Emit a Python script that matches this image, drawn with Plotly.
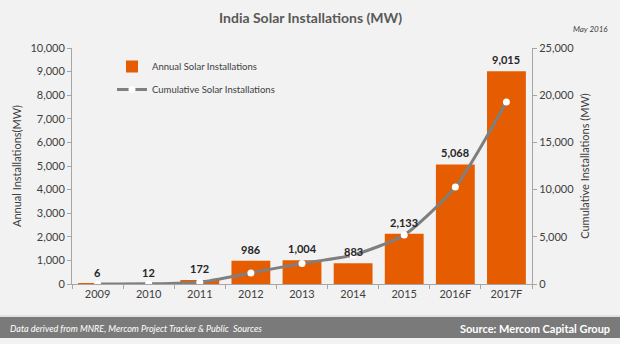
import plotly.graph_objects as go

years = ["2009", "2010", "2011", "2012", "2013", "2014", "2015", "2016F", "2017F"]
annual = [6, 12, 172, 986, 1004, 883, 2133, 5068, 9015]
cumulative = [6, 18, 190, 1176, 2180, 3063, 5196, 10264, 19279]
annual_labels = ["6", "12", "172", "986", "1,004", "883", "2,133", "5,068", "9,015"]

BAR = "#E65C00"
LINE = "#7F7F7F"
TXT = "#404040"
FONT = "Lato"

fig = go.Figure()
fig.add_trace(go.Bar(
    x=years, y=annual, name="Annual Solar Installations",
    marker=dict(color=BAR, line=dict(width=0)), yaxis="y", legendgroup="a",
))
fig.add_trace(go.Scatter(
    x=years, y=cumulative, name="Cumulative Solar Installations",
    mode="lines+markers", yaxis="y2", legendgroup="b",
    line=dict(color=LINE, width=3, shape="spline", smoothing=0.6),
    marker=dict(color="white", size=7, line=dict(width=0)),
))

annotations = []
for i, (v, t) in enumerate(zip(annual, annual_labels)):
    annotations.append(dict(x=i, y=v, xref="x", yref="y", text="<b>%s</b>" % t,
                            showarrow=False, yanchor="bottom", yshift=3,
                            font=dict(size=11, color="#262626", family=FONT)))

W, H = 460, 236
L, T = 72, 48
def px(x):
    return (x - L) / W
def py(y):
    return (T + H - y) / H

annotations += [
    dict(x=px(310), y=py(18), xref="paper", yref="paper",
         text="<b>India Solar Installations (MW)</b>", showarrow=False,
         font=dict(size=14, color="#595959", family=FONT), xanchor="center", yanchor="middle"),
    dict(x=px(610), y=py(29), xref="paper", yref="paper",
         text="<i>May 2016</i>", showarrow=False,
         font=dict(size=8, color="#404040", family=FONT), xanchor="right", yanchor="middle"),
    dict(x=px(8), y=py(328), xref="paper", yref="paper",
         text="<i>Data derived from MNRE, Mercom Project Tracker &amp; Public  Sources</i>",
         showarrow=False, font=dict(size=9, color="white", family=FONT),
         xanchor="left", yanchor="middle"),
    dict(x=px(612), y=py(328), xref="paper", yref="paper",
         text="<b>Source: Mercom Capital Group</b>", showarrow=False,
         font=dict(size=11, color="white", family=FONT), xanchor="right", yanchor="middle"),
]

shapes = [
    dict(type="rect", xref="paper", yref="paper", x0=px(0), x1=px(620),
         y0=py(338), y1=py(317), fillcolor="#7A7A7A", line=dict(width=0), layer="below"),
    dict(type="line", xref="paper", yref="paper", x0=px(0), x1=px(620),
         y0=py(316), y1=py(316), line=dict(color="#D0D0D0", width=1)),
]

axis_common = dict(showgrid=False, zeroline=False, showline=True, linecolor="#A6A6A6",
                   linewidth=1, ticks="outside", ticklen=4, tickcolor="#A6A6A6",
                   tickfont=dict(size=11, color=TXT, family=FONT))

fig.update_layout(
    width=620, height=344,
    margin=dict(l=L, r=620 - L - W, t=T, b=344 - T - H, pad=0),
    paper_bgcolor="#F2F2F2", plot_bgcolor="#F2F2F2",
    font=dict(family=FONT, color=TXT),
    bargap=0.24,
    showlegend=True,
    legend=dict(x=px(112), y=py(52), xanchor="left", yanchor="top",
                bgcolor="rgba(0,0,0,0)", font=dict(size=9.5, color=TXT, family=FONT),
                tracegroupgap=4, itemwidth=30, traceorder="grouped"),
    xaxis=dict(**axis_common, type="category", tickson="boundaries",
               range=[-0.5, 8.5]),
    yaxis=dict(**axis_common, range=[0, 10000], dtick=1000, tickformat=",d",
               title=dict(text="Annual Installations(MW)", font=dict(size=11, color=TXT, family=FONT), standoff=6)),
    yaxis2=dict(**axis_common, overlaying="y", side="right", range=[0, 25000], dtick=5000,
                tickformat=",d",
                title=dict(text="Cumulative Installations (MW)", font=dict(size=11, color=TXT, family=FONT), standoff=8)),
    annotations=annotations, shapes=shapes,
)

fig.write_html("out.html")
